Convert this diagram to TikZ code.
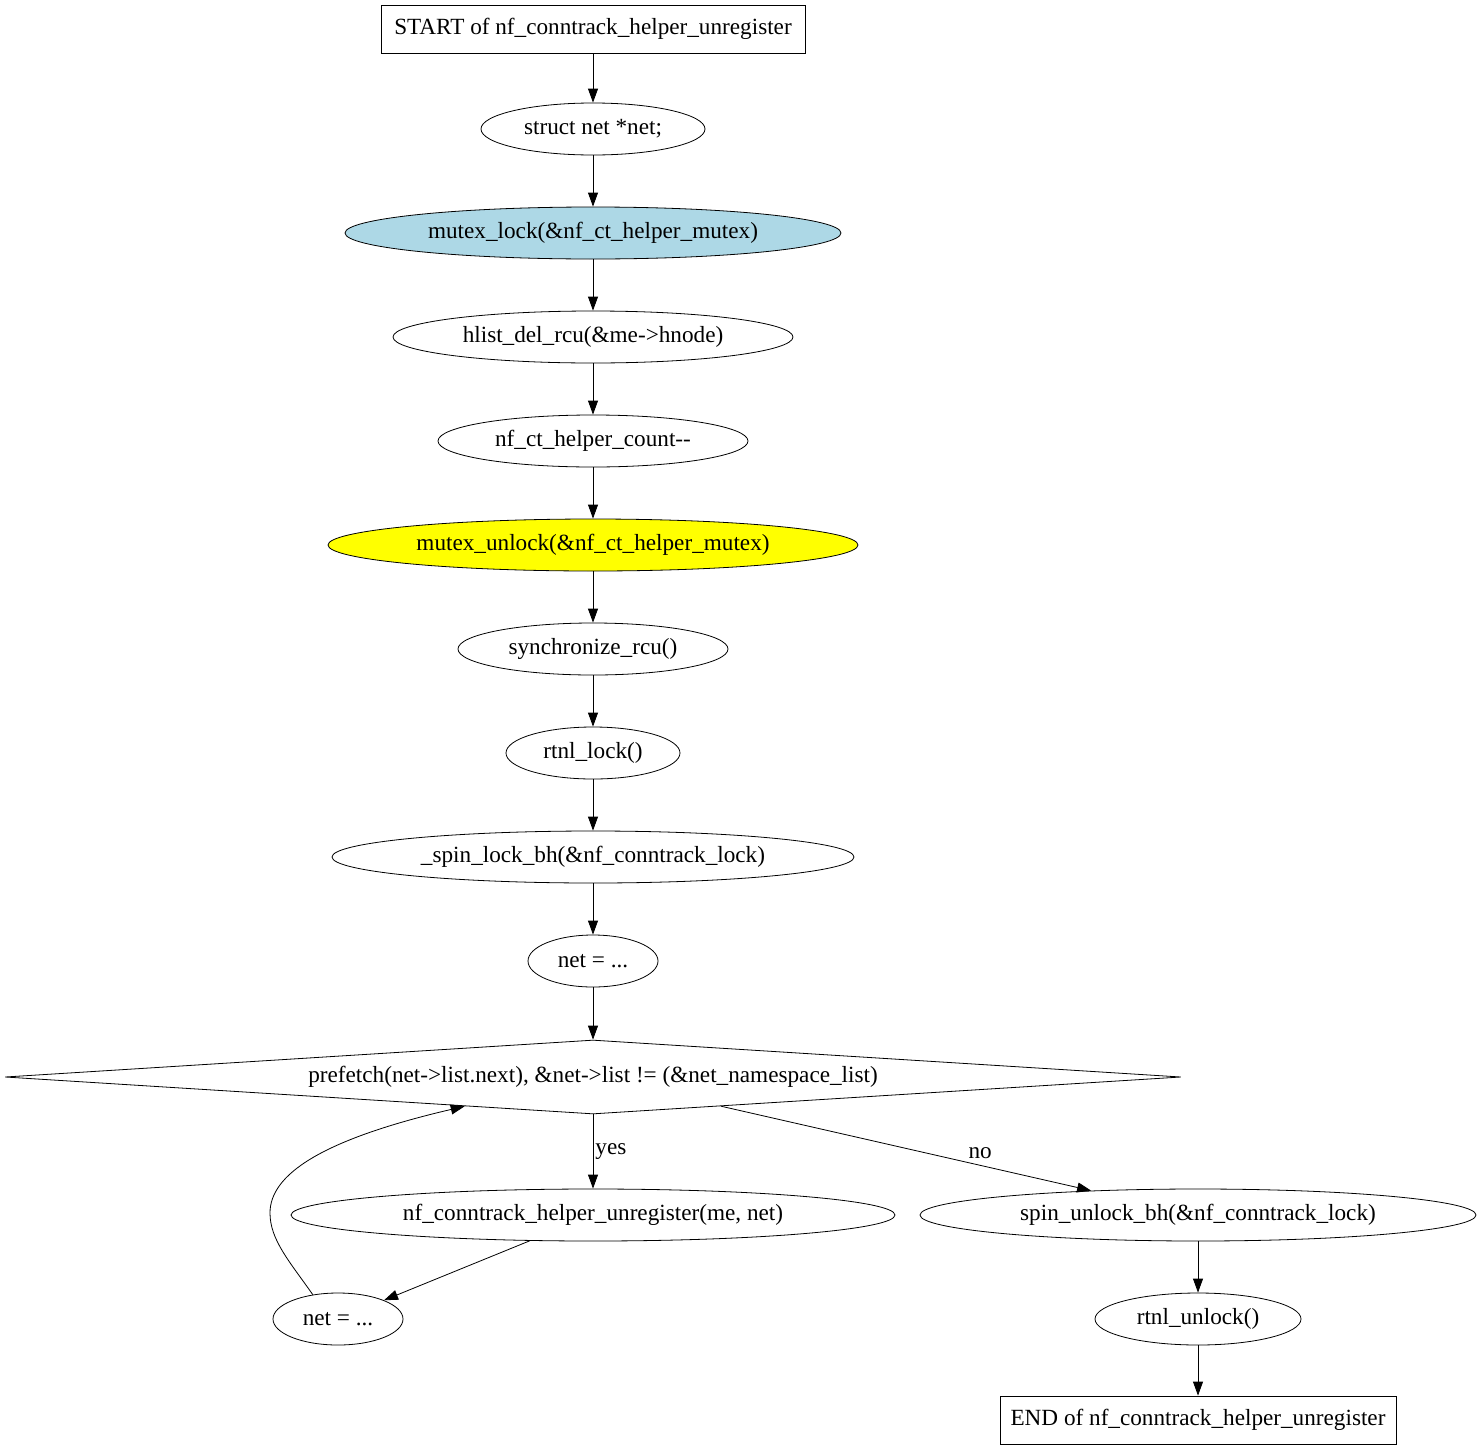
\documentclass[tikz,border=0pt]{standalone}
\usepackage{fontspec}
\setmainfont{Liberation Serif}
\usepackage{tikz}
\usetikzlibrary{arrows.meta,shapes.geometric,calc}
\definecolor{lightblue}{HTML}{ADD8E6}
\definecolor{lockyellow}{HTML}{FFFF00}

\begin{document}
\begin{tikzpicture}[x=0.5pt,y=-0.5pt,
    every node/.style={font=\fontsize{11.6}{13}\selectfont},
    blk/.style={draw,rectangle,inner sep=0pt,minimum height=24pt},
    op/.style={draw,ellipse,inner sep=0pt,minimum height=26pt},
    cond/.style={draw,diamond,inner sep=0pt,shape aspect=15.9,minimum width=588pt,minimum height=37pt},
    flow/.style={-{Triangle[length=7pt,width=5pt]}},
    lbl/.style={inner sep=1pt}]
    \useasboundingbox (0,0) rectangle (1483,1451);

    \node[blk,minimum width=212pt] (start) at (593,29) {START of nf\_conntrack\_helper\_unregister};
    \node[op,minimum width=112pt] (decl) at (593,129) {struct net *net;};
    \node[op,fill=lightblue,minimum width=248pt] (mlock) at (593,233) {mutex\_lock(\&nf\_ct\_helper\_mutex)};
    \node[op,minimum width=200pt] (hdel) at (593,337) {hlist\_del\_rcu(\&me->hnode)};
    \node[op,minimum width=155pt] (count) at (593,441) {nf\_ct\_helper\_count-{}-};
    \node[op,fill=lockyellow,minimum width=265pt] (munlock) at (593,545) {mutex\_unlock(\&nf\_ct\_helper\_mutex)};
    \node[op,minimum width=135pt] (sync) at (593,649) {synchronize\_rcu()};
    \node[op,minimum width=87pt] (rlock) at (593,753) {rtnl\_lock()};
    \node[op,minimum width=261pt] (slock) at (593,857) {\_spin\_lock\_bh(\&nf\_conntrack\_lock)};
    \node[op,minimum width=65pt] (netA) at (593,961) {net = ...};
    \node[cond] (loop) at (593,1077) {prefetch(net->list.next), \&net->list != (\&net\_namespace\_list)};
    \node[op,minimum width=302pt] (unreg) at (593,1215) {nf\_conntrack\_helper\_unregister(me, net)};
    \node[op,minimum width=278pt] (sunlock) at (1198,1215) {spin\_unlock\_bh(\&nf\_conntrack\_lock)};
    \node[op,minimum width=65pt] (netB) at (338,1319) {net = ...};
    \node[op,minimum width=103pt] (runlock) at (1198,1319) {rtnl\_unlock()};
    \node[blk,minimum width=198pt] (end) at (1198,1420) {END of nf\_conntrack\_helper\_unregister};

    \draw[flow] (start) -- (decl);
    \draw[flow] (decl) -- (mlock);
    \draw[flow] (mlock) -- (hdel);
    \draw[flow] (hdel) -- (count);
    \draw[flow] (count) -- (munlock);
    \draw[flow] (munlock) -- (sync);
    \draw[flow] (sync) -- (rlock);
    \draw[flow] (rlock) -- (slock);
    \draw[flow] (slock) -- (netA);
    \draw[flow] (netA) -- (loop);
    \draw[flow] (loop) -- node[lbl,anchor=west] {yes} (unreg);
    \draw[flow] (loop) -- node[lbl,pos=0.7,above=2pt] {no} (sunlock);
    \draw[flow] (unreg) -- (netB);
    \draw[flow] (netB.136) .. controls (290,1262) and (270,1240) .. (270,1213)
        .. controls (270,1175) and (320,1140) .. ($(loop.west)!0.782!(loop.south)$);
    \draw[flow] (sunlock) -- (runlock);
    \draw[flow] (runlock) -- (end);
\end{tikzpicture}
\end{document}
